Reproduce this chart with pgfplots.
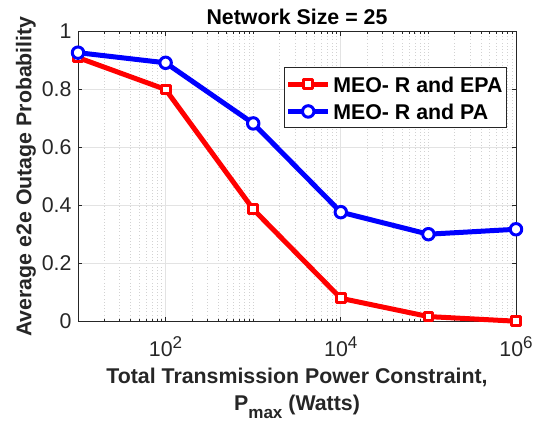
\documentclass[border=0pt]{standalone}
\usepackage{fontspec}
\setmainfont{Liberation Sans}
\usepackage{pgfplots}
\pgfplotsset{compat=1.18}
\definecolor{axgray}{rgb}{0.15,0.15,0.15}
\newcommand{\sUp}[1]{\raisebox{6pt}{\fontsize{12.8}{13}\selectfont #1}}
\begin{document}
\begin{tikzpicture}
\begin{axis}[
  at={(0,0)}, anchor=south west,
  scale only axis, width=328.5pt, height=217.5pt,
  xmode=log, xmin=10, xmax=1e6, ymin=0, ymax=1,
  xtick={1e2,1e4,1e6},
  xticklabels={10\sUp{2},10\sUp{4},10\sUp{6}},
  minor xtick={20,30,40,50,60,70,80,90,200,300,400,500,600,700,800,900,1000,2000,3000,4000,5000,6000,7000,8000,9000,2e4,3e4,4e4,5e4,6e4,7e4,8e4,9e4,1e5,2e5,3e5,4e5,5e5,6e5,7e5,8e5,9e5},
  ytick={0,0.2,0.4,0.6,0.8,1},
  yticklabels={0,0.2,0.4,0.6,0.8,1},
  tick align=inside,
  major tick length=3.3pt, minor tick length=1.8pt,
  axis line style={axgray, line width=0.6pt},
  every tick/.style={axgray, line width=0.6pt},
  grid=both,
  major grid style={gray!22, line width=0.5pt},
  minor grid style={gray!35, dotted, line width=0.5pt},
  xticklabel style={font=\fontsize{16}{19}\selectfont, text=axgray, anchor=base, yshift=-26.6pt},
  yticklabel style={font=\fontsize{16}{19}\selectfont, text=axgray, anchor=east, inner sep=0pt, xshift=-4.7pt},
  xlabel={Total Transmission Power Constraint,\\P\raisebox{-5.5pt}{\fontsize{12.8}{13}\selectfont max} (Watts)},
  xlabel style={at={(axis description cs:0.5,-0.160)}, anchor=north, align=center, inner sep=0pt, font=\bfseries\fontsize{16}{20.5}\selectfont, text=axgray},
  ylabel={Average e2e Outage Probability},
  ylabel style={at={(axis description cs:-0.1187,0.5)}, anchor=center, inner sep=0pt, font=\bfseries\fontsize{16}{19}\selectfont, text=axgray},
  title={Network Size = 25},
  every axis title shift=0pt,
  title style={at={(axis description cs:0.5,1.0224)}, anchor=base, inner sep=0pt, font=\bfseries\fontsize{16}{19}\selectfont},
  legend style={at={(axis description cs:0.979,0.876)}, anchor=north east, draw=axgray, line width=0.5pt,
    font=\bfseries\fontsize{16}{19}\selectfont, inner xsep=1pt, inner ysep=2pt, row sep=0pt,
    nodes={inner xsep=2pt, inner ysep=2pt, text height=14.5pt, text depth=2pt}},
  legend cell align=left,
  legend image code/.code={\draw[mark repeat=2,mark phase=2,#1] plot coordinates {(0pt,0pt) (15pt,0pt) (30pt,0pt)};},
  clip=false,
]
\addplot[red, line width=3.75pt, line join=round, mark=square*, mark size=3.3pt,
  mark options={fill=white, line width=2.25pt, solid}]
  coordinates {(10,0.910) (100,0.800) (1000,0.387) (10000,0.080) (100000,0.017) (1000000,0.001)};
\addlegendentry{MEO- R and EPA}
\addplot[blue, line width=3.75pt, line join=round, mark=*, mark size=4.3pt,
  mark options={fill=white, line width=2.25pt, solid}]
  coordinates {(10,0.927) (100,0.892) (1000,0.683) (10000,0.377) (100000,0.301) (1000000,0.318)};
\addlegendentry{MEO- R and PA}
\end{axis}
\pgfresetboundingbox
\useasboundingbox (-58.5pt,-76.125pt) rectangle (342pt,241.125pt);
\end{tikzpicture}
\end{document}
